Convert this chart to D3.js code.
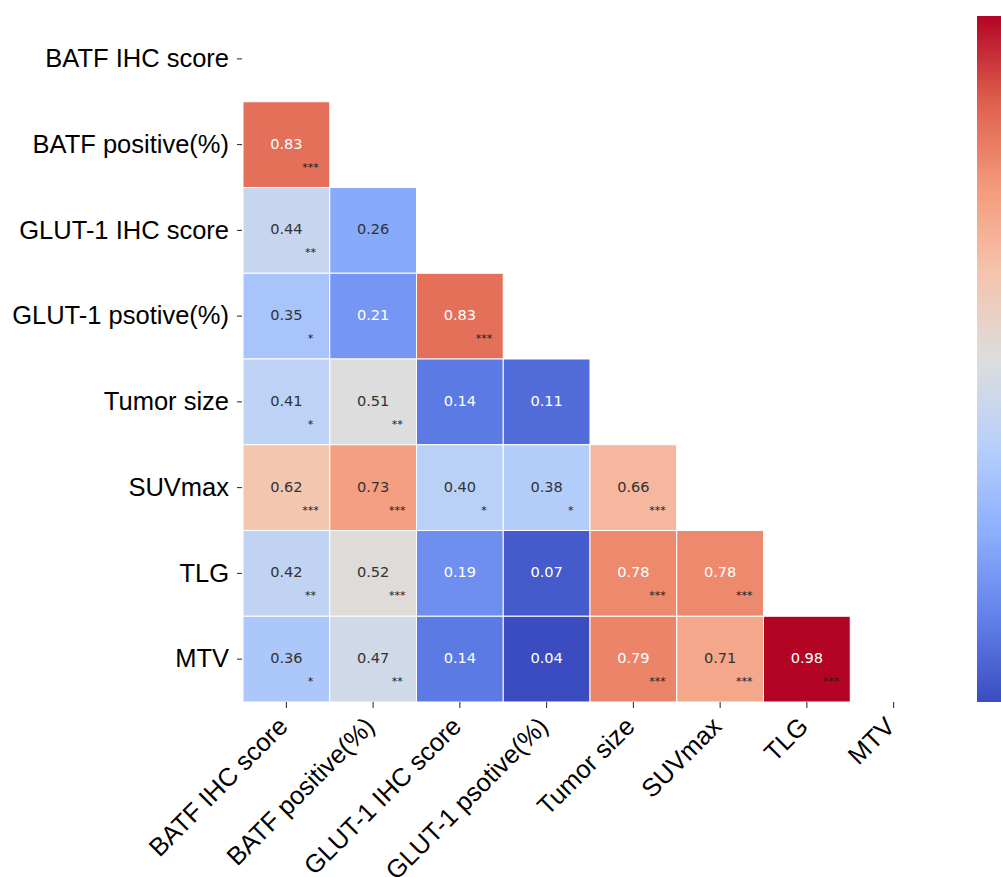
<!DOCTYPE html>
<html>
<head>
<meta charset="utf-8">
<script src="https://cdn.jsdelivr.net/npm/d3@7"></script>
<style>
  body { margin: 0; background: #fff; }
  svg { display: block; }
</style>
</head>
<body>
<div id="chart"></div>
<script>
// variable names (rows and columns)
var labels = ["BATF IHC score", "BATF positive(%)", "GLUT-1 IHC score", "GLUT-1 psotive(%)",
              "Tumor size", "SUVmax", "TLG", "MTV"];

// lower triangle correlations, row i has i values
var corrRows = [
  [],
  [0.83],
  [0.44, 0.26],
  [0.35, 0.21, 0.83],
  [0.41, 0.51, 0.14, 0.11],
  [0.62, 0.73, 0.40, 0.38, 0.66],
  [0.42, 0.52, 0.19, 0.07, 0.78, 0.78],
  [0.36, 0.47, 0.14, 0.04, 0.79, 0.71, 0.98]
];

// significance stars, same shape
var starRows = [
  [],
  ["***"],
  ["**", ""],
  ["*", "", "***"],
  ["*", "**", "", ""],
  ["***", "***", "*", "*", "***"],
  ["**", "***", "", "", "***", "***"],
  ["*", "**", "", "", "***", "***", "***"]
];

var svgWidth = 1001;
var svgHeight = 877;
var grid = {left: 243, top: 16, right: 937, bottom: 702};

var svg = d3.select("#chart")
    .append("svg")
    .attr("width", svgWidth)
    .attr("height", svgHeight);

// flatten into cells
var cells = [];
corrRows.forEach(function(row, i) {
    row.forEach(function(v, j) {
        cells.push({row: labels[i], col: labels[j], value: v, stars: starRows[i][j]});
    });
});

var xScale = d3.scaleBand().domain(labels).range([grid.left, grid.right]);
var yScale = d3.scaleBand().domain(labels).range([grid.top, grid.bottom]);

// coolwarm colormap stops
var coolwarm = ["#3b4cc0", "#6282ea", "#8db0fe", "#b8d0f9", "#dddddd",
                "#f5c4ad", "#f49a7b", "#de604d", "#b40426"];
var vmin = d3.min(cells, function(d) { return d.value; });
var vmax = d3.max(cells, function(d) { return d.value; });
var color = d3.scaleLinear()
    .domain(coolwarm.map(function(c, i) { return vmin + (vmax - vmin) * i / (coolwarm.length - 1); }))
    .range(coolwarm)
    .interpolate(d3.interpolateRgb);

function luminance(c) {
    var rgb = d3.rgb(c);
    var f = function(v) {
        v = v / 255;
        return v <= 0.03928 ? v / 12.92 : Math.pow((v + 0.055) / 1.055, 2.4);
    };
    return 0.2126 * f(rgb.r) + 0.7152 * f(rgb.g) + 0.0722 * f(rgb.b);
}

var heat = svg.append("g");

heat.selectAll("rect")
    .data(cells)
    .enter()
    .append("rect")
    .attr("x", function(d) { return xScale(d.col); })
    .attr("y", function(d) { return yScale(d.row); })
    .attr("width", xScale.bandwidth())
    .attr("height", yScale.bandwidth())
    .attr("fill", function(d) { return color(d.value); })
    .attr("stroke", "#fff")
    .attr("stroke-width", 1);

heat.selectAll("text.val")
    .data(cells)
    .enter()
    .append("text")
    .attr("class", "val")
    .attr("x", function(d) { return xScale(d.col) + xScale.bandwidth() / 2; })
    .attr("y", function(d) { return yScale(d.row) + yScale.bandwidth() / 2 - 1; })
    .attr("dy", "0.35em")
    .attr("text-anchor", "middle")
    .style("font-family", "DejaVu Sans, sans-serif")
    .style("font-size", "14.6px")
    .attr("fill", function(d) { return luminance(color(d.value)) > 0.408 ? "#333333" : "#ffffff"; })
    .text(function(d) { return d.value.toFixed(2); });

heat.selectAll("text.star")
    .data(cells.filter(function(d) { return d.stars; }))
    .enter()
    .append("text")
    .attr("class", "star")
    .attr("x", function(d) { return xScale(d.col) + xScale.bandwidth() / 2 + 24; })
    .attr("y", function(d) { return yScale(d.row) + yScale.bandwidth() / 2 + 26; })
    .attr("text-anchor", "middle")
    .style("font-family", "DejaVu Sans, sans-serif")
    .style("font-size", "11px")
    .attr("fill", "#1a1a1a")
    .text(function(d) { return d.stars; });

// axes
var leftAxis = d3.axisLeft(yScale).tickSize(5).tickPadding(8);
var bottomAxis = d3.axisBottom(xScale).tickSize(6).tickPadding(4);

var yAxisG = svg.append("g")
    .attr("transform", "translate(" + (grid.left - 1) + ",0)")
    .call(leftAxis);
yAxisG.select(".domain").remove();
yAxisG.selectAll("text")
    .style("font-family", "Liberation Sans, Arial, sans-serif")
    .style("font-size", "25.5px")
    .attr("fill", "#000");
yAxisG.selectAll("line").attr("stroke", "#222");

var xAxisG = svg.append("g")
    .attr("transform", "translate(0," + grid.bottom + ")")
    .call(bottomAxis);
xAxisG.select(".domain").remove();
xAxisG.selectAll("line").attr("stroke", "#222");
xAxisG.selectAll("text")
    .style("font-family", "Liberation Sans, Arial, sans-serif")
    .style("font-size", "25.5px")
    .attr("fill", "#000")
    .attr("text-anchor", "end")
    .attr("dy", 0)
    .attr("y", 0)
    .attr("transform", "translate(3,26) rotate(-45)");

// colorbar
var cbar = {x: 977, width: 36};
var cbScale = d3.scaleLinear().domain([vmin, vmax]).range([grid.bottom, grid.top]);
var cbSteps = d3.range(0, 200).map(function(i) { return vmin + (vmax - vmin) * i / 199; });
var defs = svg.append("defs");
var grad = defs.append("linearGradient")
    .attr("id", "cbgrad")
    .attr("x1", 0).attr("x2", 0).attr("y1", 1).attr("y2", 0);
grad.selectAll("stop")
    .data(cbSteps)
    .enter()
    .append("stop")
    .attr("offset", function(d) { return (d - vmin) / (vmax - vmin); })
    .attr("stop-color", function(d) { return color(d); });

svg.append("rect")
    .attr("x", cbar.x)
    .attr("y", cbScale(vmax))
    .attr("width", cbar.width)
    .attr("height", cbScale(vmin) - cbScale(vmax))
    .attr("fill", "url(#cbgrad)");
</script>
</body>
</html>
